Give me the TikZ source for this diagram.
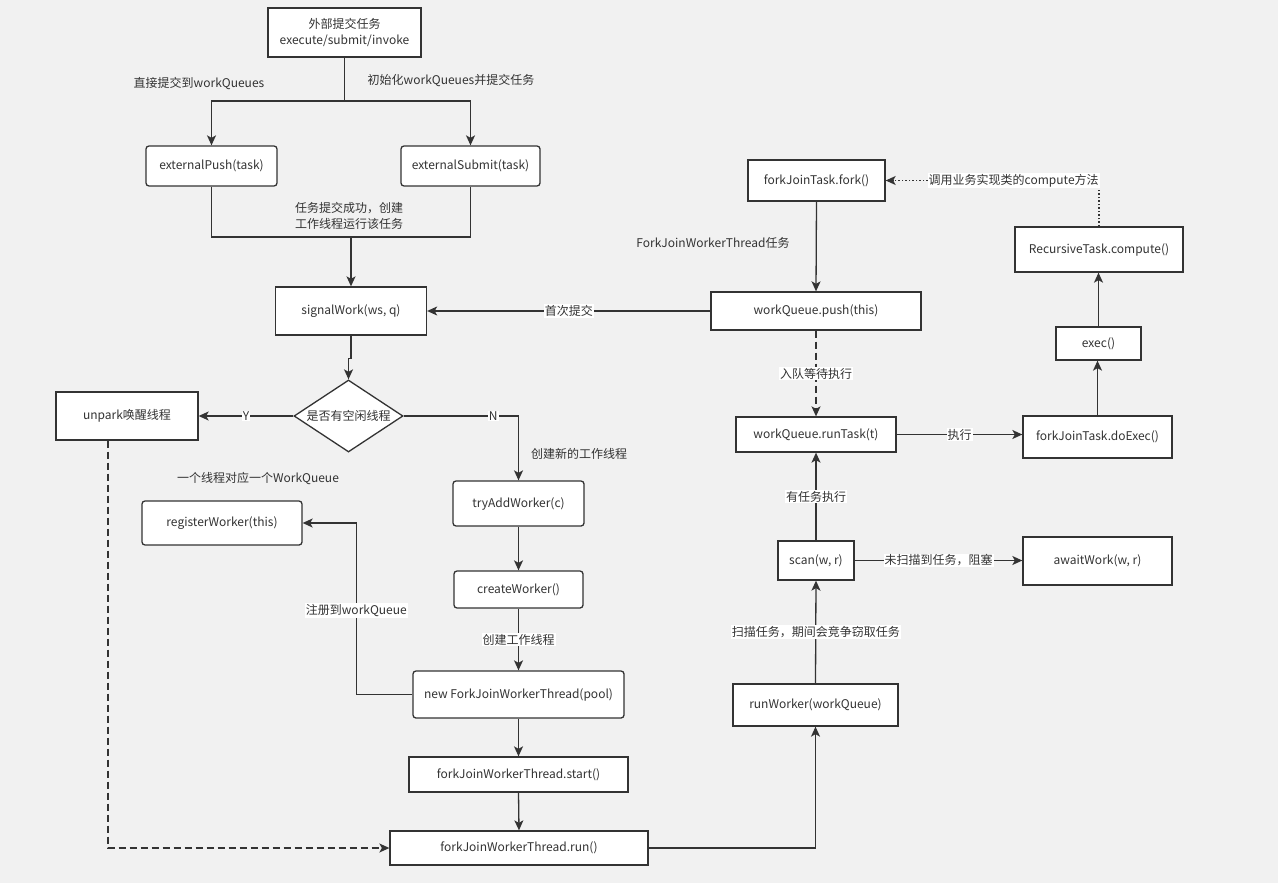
\documentclass[tikz,border=0pt]{standalone}
\usepackage{fontspec}
\setmainfont{Noto Sans CJK SC}
\usetikzlibrary{arrows.meta,shapes.geometric,calc}
\definecolor{bgc}{HTML}{F1F1F1}
\definecolor{lnc}{HTML}{333333}
\definecolor{txc}{HTML}{333333}
\begin{document}
\begin{tikzpicture}[x=1pt,y=-1pt,
  txt/.style={text=txc,font=\fontsize{12}{16}\selectfont},
  box/.style={txt,draw=lnc,fill=white,line width=1.3pt,inner sep=0pt,align=center},
  rbox/.style={box,rounded corners=3pt},
  conn/.style={draw=lnc,line width=1.3pt},
  arr/.style={conn,-{Stealth[length=10pt,width=9pt,inset=2.5pt]}},
  lbl/.style={txt,fill=white,inner sep=1pt},
  plain/.style={txt,inner sep=0pt,align=center},
  dashpat/.style={dash pattern=on 7pt off 4pt},
  dotpat/.style={dash pattern=on 1.5pt off 2pt},
]
\useasboundingbox (0,0) rectangle (1278,883);
\fill[bgc] (0,0) rectangle (1278,883);

% nodes
\node[box,minimum width=153pt,minimum height=49pt] (top) at (344.5,32.5) {外部提交任务\\execute/submit/invoke};
\node[rbox,minimum width=131pt,minimum height=40pt] (ep) at (211.5,166) {externalPush(task)};
\node[rbox,minimum width=139pt,minimum height=40pt] (es) at (470.5,166) {externalSubmit(task)};
\node[box,minimum width=151pt,minimum height=48pt] (sw) at (351,311) {signalWork(ws, q)};
\node[box,diamond,aspect=1.5,minimum width=109pt,minimum height=72pt] (dia) at (348.5,416) {是否有空闲线程};
\node[box,minimum width=142pt,minimum height=48pt] (un) at (127,416) {unpark唤醒线程};
\node[rbox,minimum width=131pt,minimum height=45pt] (ta) at (518.5,503.5) {tryAddWorker(c)};
\node[rbox,minimum width=129pt,minimum height=37pt] (cw) at (518.5,589.5) {createWorker()};
\node[rbox,minimum width=211pt,minimum height=47pt] (nf) at (518.5,694.5) {new ForkJoinWorkerThread(pool)};
\node[rbox,minimum width=160pt,minimum height=44pt] (rw) at (222,523) {registerWorker(this)};
\node[box,minimum width=219pt,minimum height=35pt] (st) at (518.5,774.5) {forkJoinWorkerThread.start()};
\node[box,minimum width=258pt,minimum height=34pt] (run) at (519,848) {forkJoinWorkerThread.run()};
\node[box,minimum width=165pt,minimum height=42pt] (rwk) at (815.5,705) {runWorker(workQueue)};
\node[box,minimum width=76pt,minimum height=39pt] (sc) at (816,560.5) {scan(w, r)};
\node[box,minimum width=149pt,minimum height=48pt] (aw) at (1097.5,561) {awaitWork(w, r)};
\node[box,minimum width=160pt,minimum height=35pt] (rt) at (816,434.5) {workQueue.runTask(t)};
\node[box,minimum width=149pt,minimum height=42pt] (de) at (1097.5,437) {forkJoinTask.doExec()};
\node[box,minimum width=85pt,minimum height=33pt] (ex) at (1098.5,343.5) {exec()};
\node[box,minimum width=168pt,minimum height=45pt] (rc) at (1099,249.5) {RecursiveTask.compute()};
\node[box,minimum width=137pt,minimum height=41pt] (fk) at (816.5,180.5) {forkJoinTask.fork()};
\node[box,minimum width=210pt,minimum height=38pt] (pu) at (816,311) {workQueue.push(this)};

% free texts
\node[plain] (t1) at (199,84) {直接提交到workQueues};
\node[plain] (t2) at (451,81) {初始化workQueues并提交任务};
\node[plain] (t3) at (349,216) {任务提交成功，创建\\工作线程运行该任务};
\node[plain] (t4) at (579,454) {创建新的工作线程};
\node[plain] (t5) at (258,479) {一个线程对应一个WorkQueue};
\node[plain] (t6) at (713,243) {ForkJoinWorkerThread任务};

% connectors
\coordinate (split) at (344.5,101);
\draw[conn] (top.south) -- (split);
\draw[arr] (split) -| (ep.north);
\draw[arr] (split) -| (es.north);
\coordinate (merge) at (351,237);
\draw[conn] (ep.south) |- (merge) -| (es.south);
\draw[arr] (merge) -- (sw.north);
\draw[arr] (sw.south) -- ++(0,23) -| (dia.north);
\draw[arr] (dia.west) -- node[lbl]{Y} (un.east);
\draw[arr] (dia.east) -| node[lbl,pos=0.39]{N} (ta.north);
\draw[arr,dashpat] ([xshift=-19pt]un.south) |- (run.west);
\draw[arr] (ta.south) -- (cw.north);
\draw[arr] (cw.south) -- node[lbl]{创建工作线程} (nf.north);
\draw[arr] (nf.west) -- ++(-56,0) |- node[lbl,pos=0.245]{注册到workQueue} (rw.east);
\draw[arr] (nf.south) -- (st.north);
\draw[arr] (st.south) -- (run.north);
\draw[arr] (run.east) -| (rwk.south);
\draw[arr] (rwk.north) -- node[lbl]{扫描任务，期间会竞争窃取任务} (sc.south);
\draw[arr] (sc.north) -- node[lbl]{有任务执行} (rt.south);
\draw[arr] (sc.east) -- node[lbl]{未扫描到任务，阻塞} (sc.east -| aw.west);
\draw[arr] (rt.east) -- node[lbl]{执行} (rt.east -| de.west);
\draw[arr] (de.north) -- (de.north |- ex.south);
\draw[arr] (ex.north) -- (ex.north |- rc.south);
\draw[arr,dotpat] (rc.north) |- node[lbl,pos=0.70]{调用业务实现类的compute方法} (fk.east);
\draw[arr] (fk.south) -- (pu.north);
\draw[arr] (pu.west) -- node[lbl]{首次提交} (pu.west -| sw.east);
\draw[arr,dashpat] (pu.south) -- node[lbl]{入队等待执行} (rt.north);
\end{tikzpicture}
\end{document}
